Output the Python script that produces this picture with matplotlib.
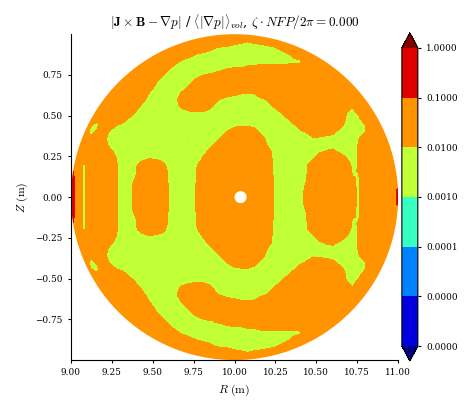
import numpy as np
import matplotlib
matplotlib.use("Agg")
import matplotlib.pyplot as plt
from matplotlib.colors import LogNorm
from matplotlib.patches import Circle

plt.rcParams['font.family'] = 'serif'
plt.rcParams['font.serif'] = ['DejaVu Serif']
plt.rcParams['mathtext.fontset'] = 'cm'
plt.rcParams['axes.unicode_minus'] = True

# ---------------- data ----------------
# grid of the cross-section (R in m, Z in m, upper half; lower half is its mirror)
R_values = np.linspace(9.0, 11.0, 51)
Z_upper = np.linspace(0.0, 1.0, 26)

# force-error band read at each grid node, rows from Z=0.00 up to Z=1.00.
# G = deep in 1e-3..1e-2 band, O = deep in 1e-2..1e-1 band,
# digits 0..9 = nodes near the 1e-2 border (0-4 below it, 5-9 above it),
# g = thin 1e-3..1e-2 streak, r/q = 1e-1..1 band, C = 1e-4..1e-3 band
band_rows = [
    "rOgOOOO5GG 7OOOO2GGG3 OOOOOOOOOO O3GGGG6OOO OOO63OOOOO q",
    "rOgOOOO5GG 7OOOO2GGG3 OOOOOOOOOO O3GGGG6OOO OOO63OOOOO q",
    "rOgOOOO5GG 7OOOO2GGG3 OOOOOOOOOO O3GGGG5OOO OOO54OOOOO O",
    "rOgOOOO5GG 5OOO81GGG2 OOOOOOOOOO O3GGGG4OOO OOO54OOOOO O",
    "qOgOOOO5GG 4OOO81GGG2 OOOOOOOOOO O2GGGG3OOO OOO35OOOOO O",
    "OOgOOOO5GG 47O861GGG1 7OOOOOOOOO O2GGGG28OO OO825OOOOO O",
    "OOOOOOO3GG G1321GGGGG 4OOOOOOOOO 81GGGGG38O O85G5OOOOO O",
    "OOOOOO61GG GGGGGGGGGG G5OOOOOOOO 71GGGGGG35 63GG5OOOOO O",
    "OOOOO71GGG GGGGGGGGGG GG5OOOOOOO 4GGGGGGGGG GGGG5OOOOO O",
    "OOO6O6GGGG GGGGGGGGCG GG15OOOOO7 1GGGGGG32G GGGG4OOOOO O",
    "OOOG682GGG GGGGGGGGGG GGGG58OO72 GGGGG25887 61GG14OOOO O",
    "OOO5GO841G GGGGGGGGGG GGGGG1331G GGGG27OOOO O72GG4OOOO O",
    "OOOO6OOO72 GGGGGGGGGG GGGGGGGGGG GGG38OOOOO OO4G28OOOO O",
    "OOOOOOOOO8 3GGGGGGG23 31GGGGGGGG GG4OOOOOOO OO516OOOOO O",
    "OOOOOOOOOO 72GGGG168O O73GGGGGGG G5OOOOOOOO OO65OOOOOO O",
    "OOOOOOOOOO O6GGGG28OO OO630GGGG2 5OOOOOOOOO OOOOOOOOOO O",
    "OOOOOOOOOO OO4GGG15OO OOOO765558 OOOOOOOOOO OOOOOOOOOO O",
    "OOOOOOOOOO OO82GGG05O OOOOOOOOOO OOOOOOOOOO OOOOOOOOOO O",
    "OOOOOOOOOO OOO61GGG05 7OOOOOOOOO OOOOOOOOOO OOOOOOOOOO O",
    "OOOOOOOOOO OOOO61GGGG 13568OOOOO OOOOOOOOOO OOOOOOOOOO O",
    "OOOOOOOOOO OOOOO61GGG GGGG123556 66666557OO OOOOOOOOOO O",
    "OOOOOOOOOO OOOOOO741G GGGGGGGGGG GGGG248OOO OOOOOOOOOO O",
    "OOOOOOOOOO OOOOOOOO75 31GGGGGGGG GGG37OOOOO OOOOOOOOOO O",
    "OOOOOOOOOO OOOOOOOOOO O75420GGGG 146OOOOOOO OOOOOOOOOO O",
    "OOOOOOOOOO OOOOOOOOOO OOOOO76567 8OOOOOOOOO OOOOOOOOOO O",
    "OOOOOOOOOO OOOOOOOOOO OOOOOOOOOO OOOOOOOOOO OOOOOOOOOO O",
]
band_log10 = {'G': -2.6, 'O': -1.4, 'g': -2.4, 'r': -0.8, 'q': -0.9, 'C': -3.2}
for d in range(10):
    band_log10[str(d)] = -2.0 + (d - 4.5) * 0.12

levels = [1e-6, 1e-5, 1e-4, 1e-3, 1e-2, 1e-1, 1e0]
x_ticks = [9.00, 9.25, 9.50, 9.75, 10.00, 10.25, 10.50, 10.75, 11.00]
y_ticks = [-0.75, -0.50, -0.25, 0.00, 0.25, 0.50, 0.75]

# boundary and magnetic-axis hole geometry
R_center, minor_radius = 10.0, 1.0
axis_R, axis_hole_radius = 10.037, 0.037

title = (r"$|\mathbf{J} \times \mathbf{B} - \nabla p|$ / "
         r"$\left\langle |\nabla p| \right\rangle_{vol}$, "
         r"$\zeta \cdot NFP/2\pi = 0.000$")

# ---------------- build field ----------------
upper = np.array([[band_log10[ch] for ch in row.replace(" ", "")]
                  for row in band_rows])
field_log = np.vstack([upper[:0:-1], upper])
Z_values = np.concatenate([-Z_upper[:0:-1], Z_upper])
RR, ZZ = np.meshgrid(R_values, Z_values)
field = 10.0 ** field_log

# ---------------- plot ----------------
fig = plt.figure(figsize=(4.70, 4.12), dpi=100)
ax = fig.add_axes([0.151, 0.126, 0.696, 0.791])
cax = fig.add_axes([0.855, 0.124, 0.034, 0.796])

cs = ax.contourf(RR, ZZ, field, levels=levels, norm=LogNorm(vmin=1e-6, vmax=1.0),
                 cmap='jet', extend='both')
boundary = Circle((R_center, 0.0), minor_radius, transform=ax.transData,
                  facecolor='none', edgecolor='none')
cs.set_clip_path(boundary)
ax.add_patch(Circle((axis_R, 0.0), axis_hole_radius, facecolor='white',
                    edgecolor='none', zorder=3))

ax.set_xlim(9.0, 11.0)
ax.set_ylim(-1.0, 1.0)
ax.set_xticks(x_ticks)
ax.set_yticks(y_ticks)
ax.xaxis.set_major_formatter('{x:.2f}')
ax.yaxis.set_major_formatter('{x:.2f}')
ax.tick_params(labelsize=6.4, length=2.5, width=0.8)
for s in ['top', 'right']:
    ax.spines[s].set_visible(False)
ax.set_xlabel(r"$R ~(\mathrm{m})$", fontsize=8.5)
ax.set_ylabel(r"$Z ~(\mathrm{m})$", fontsize=8.5)
ax.set_title(title, fontsize=9.5)

cb = fig.colorbar(cs, cax=cax, ticks=levels, format='%.4f')
cb.ax.minorticks_off()
cb.ax.tick_params(labelsize=6.4, length=2.5, width=0.8)

fig.savefig("out.png", dpi=100)
